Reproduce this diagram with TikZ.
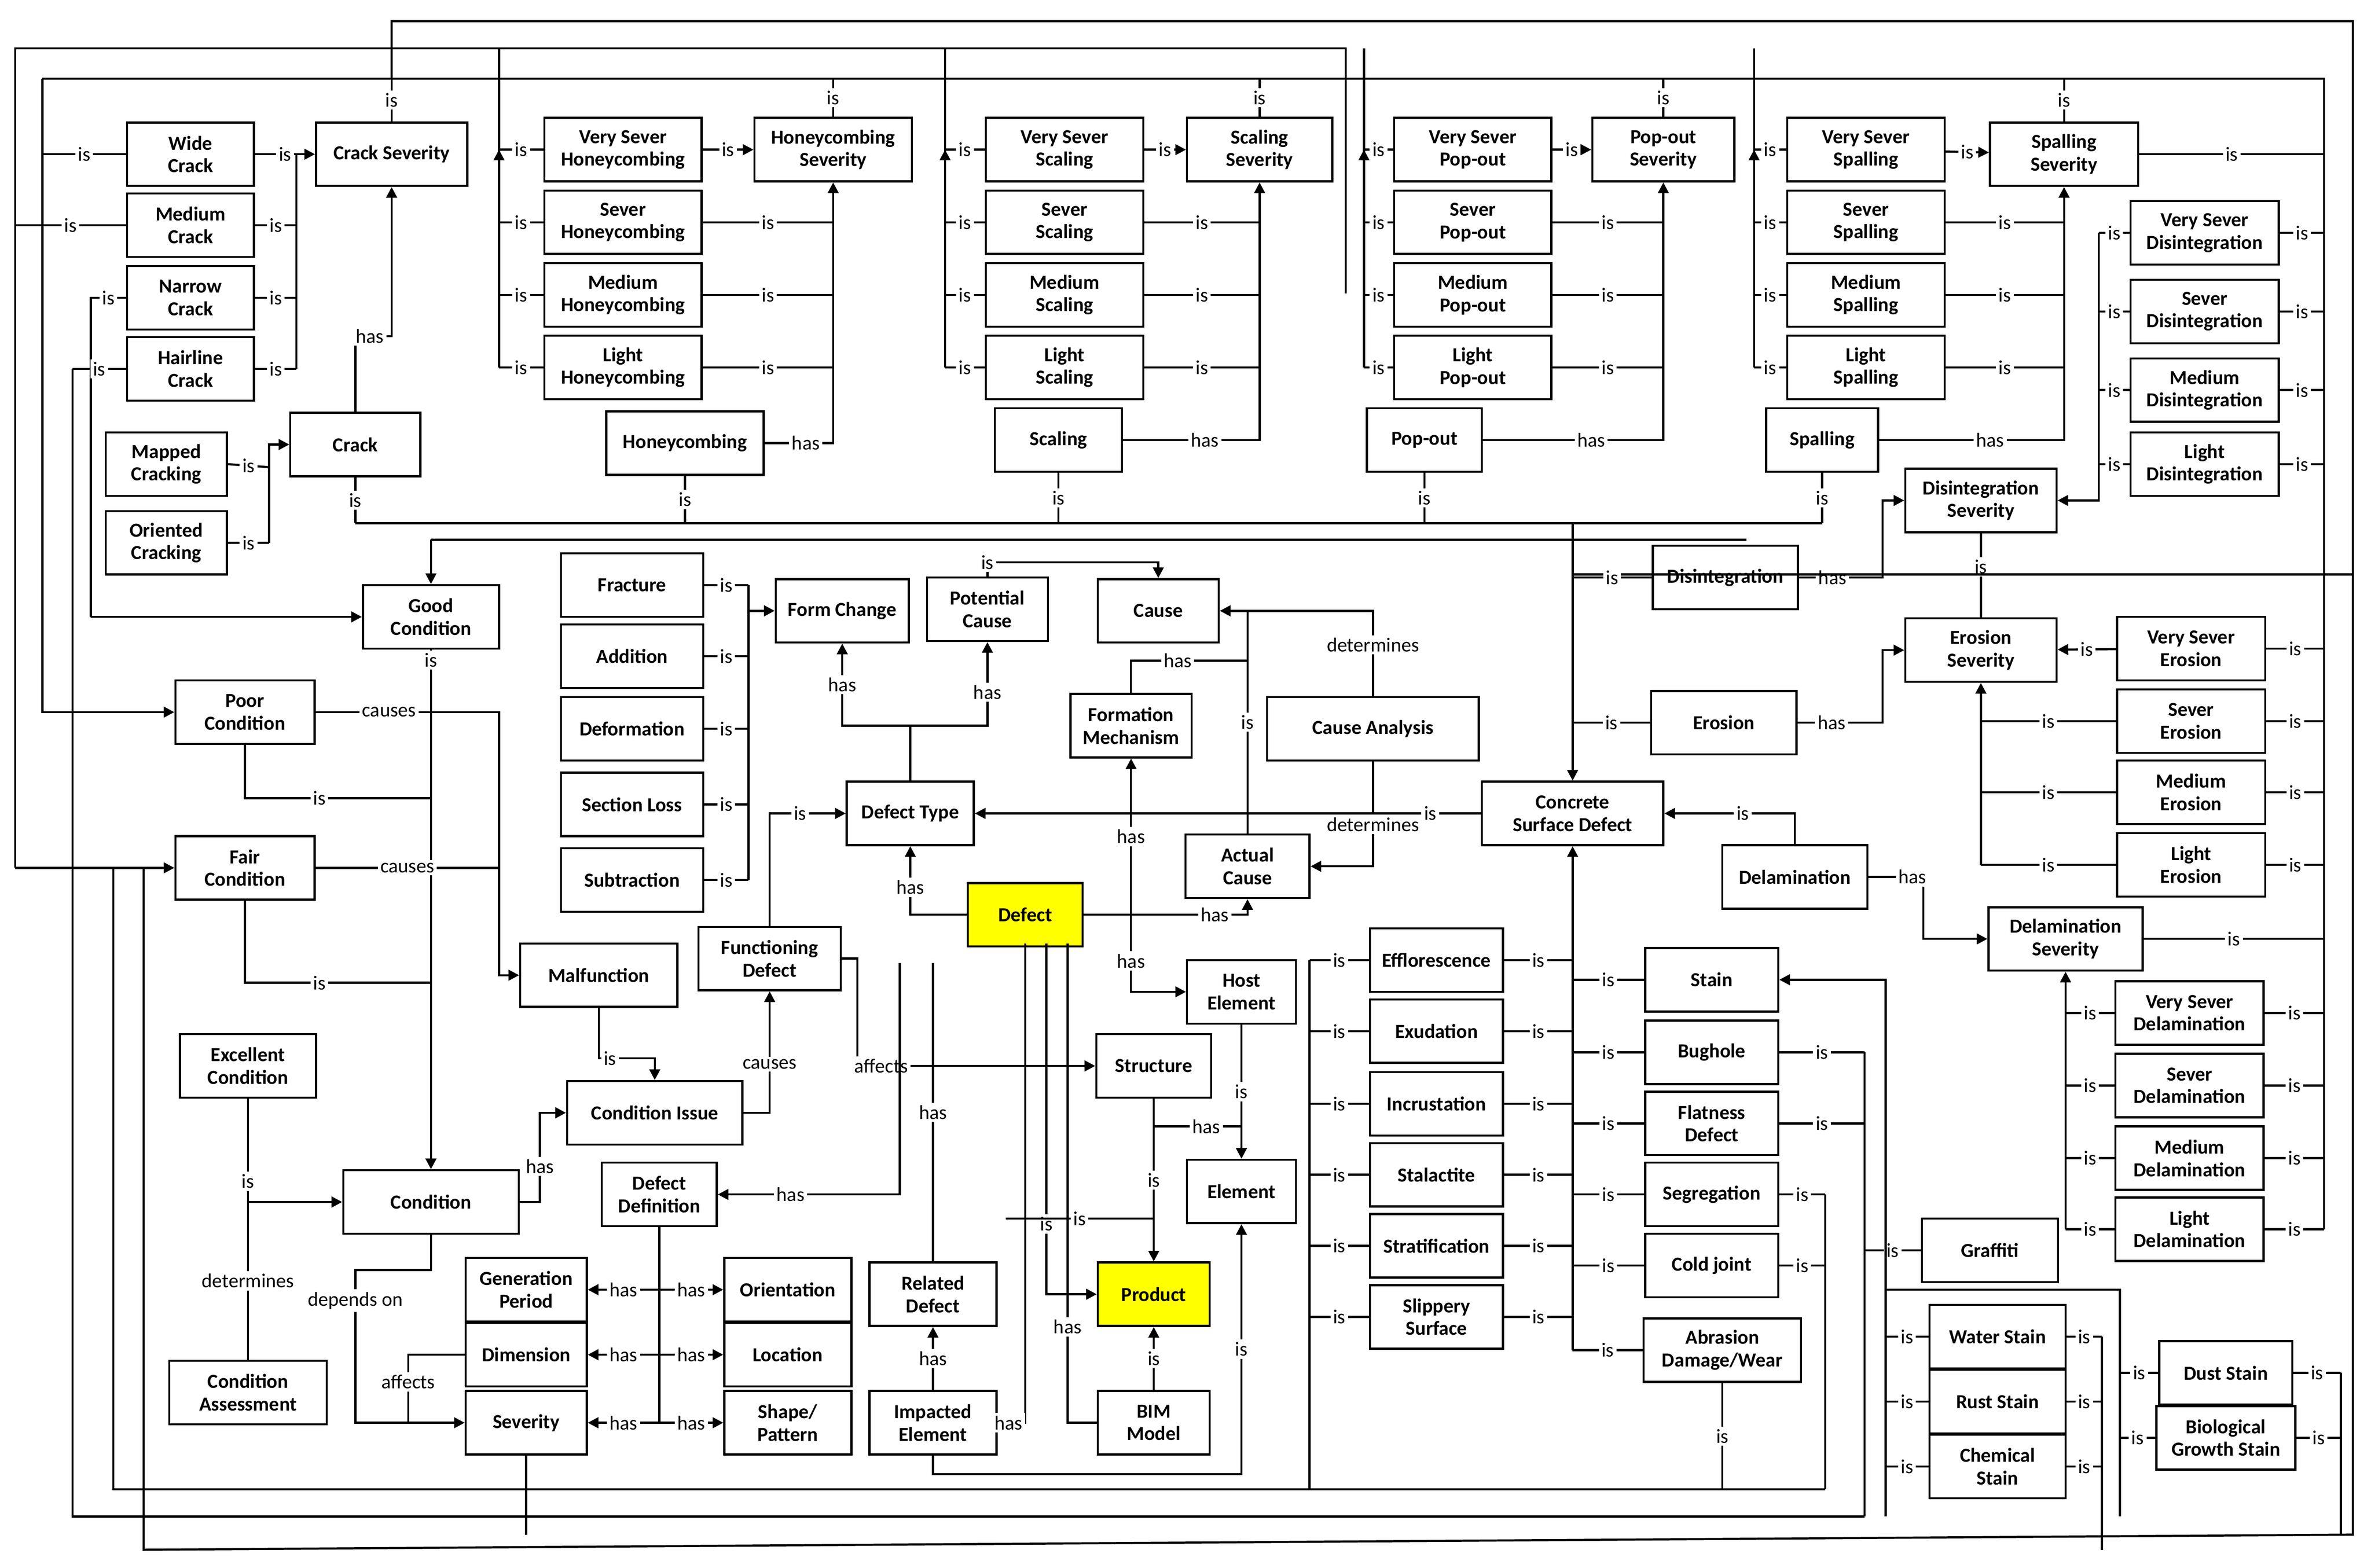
\documentclass[tikz,border=0pt]{standalone}
\usepackage{fontspec}
\setmainfont{Carlito}
\usetikzlibrary{arrows.meta}
\definecolor{defYellow}{HTML}{FFFF00}
\tikzset{
  box/.style={draw, thick, fill=white, align=center, minimum height=0.84cm, inner sep=1pt,
    font=\bfseries\fontsize{7.5}{8.5}\selectfont},
  hot/.style={box, fill=defYellow},
  lbl/.style={fill=white, inner sep=1pt, font=\fontsize{7.5}{8.5}\selectfont},
  arr/.style={-{Triangle[length=4pt,width=4pt]}},
}
\newcommand\bx[5]{\node[box, minimum width=#4*0.02 cm] (#1) at (#2,#3) {#5};}
\begin{document}
\begin{tikzpicture}[x=0.02cm, y=-0.02cm, thick]
\useasboundingbox (0,0) rectangle (1568,1037);

% outer buses
\draw (259,52) |- (1556,14) -- (1556,1015) -- (95,1025) -- (95,574);
\draw (28,52) -- (1537,52) -- (1537,813);
\draw (890,194) -- (890,32) -- (10,32) -- (10,574);
\draw (48,244) -- (48,1003) -- (1233,1003);
\draw (75,574) -- (75,985) -- (1207,985);
\draw (348,960) -- (348,1015);
\draw (235,346) -- (1205,346);
\draw (285,357) -- (1155,357);

% crack group
\bx{crack-w}{126}{102}{84}{Wide\\Crack}
\bx{crack-m}{126}{149}{84}{Medium\\Crack}
\bx{crack-n}{126}{197}{84}{Narrow\\Crack}
\bx{crack-h}{126}{244}{84}{Hairline\\Crack}
\bx{crack-sev}{259}{102}{100}{Crack Severity}
\bx{mapped}{110}{307}{80}{Mapped\\Cracking}
\bx{oriented}{110}{359}{80}{Oriented\\Cracking}
\bx{crack}{235}{294}{86}{Crack}
\coordinate (cb) at (196,0);
\draw[arr] (crack-w) -- node[lbl]{is} (crack-sev);
\foreach \l in {m,n,h} \draw (crack-\l.east) -- node[lbl]{is} (crack-\l.east -| cb);
\draw (196,102) -- (196,244);
\draw (crack-w.west) -- node[lbl]{is} (28,102);
\draw (crack-m.west) -- node[lbl]{is} (10,149);
\draw (crack-n.west) -- node[lbl]{is} (60,197) -- (60,408);
\draw (crack-h.west) -- node[lbl]{is} (48,244);
\draw (crack-sev.north) -- node[lbl]{is} (259,52);
\draw[arr] (crack.north) -- ++(0,-50) -| node[lbl,pos=.2]{has} (crack-sev.south);
\draw (mapped.east) -- node[lbl]{is} (178,309) (oriented.east) -- node[lbl]{is} (178,359);
\draw[arr] (178,359) |- (crack.west);
\draw (crack.south) -- node[lbl]{is} (235,346);

% severity groups
\foreach \g/\sx/\lx/\bxx/\a/\b/\c/\d in {
  honey/551/330/412/Very Sever\\Honeycombing/Sever\\Honeycombing/Medium\\Honeycombing/Light\\Honeycombing,
  scal/833/625/704/Very Sever\\Scaling/Sever\\Scaling/Medium\\Scaling/Light\\Scaling,
  pop/1100/902/974/Very Sever\\Pop-out/Sever\\Pop-out/Medium\\Pop-out/Light\\Pop-out,
  spall/1365/1160/1234/Very Sever\\Spalling/Sever\\Spalling/Medium\\Spalling/Light\\Spalling}{
  \bx{\g-vs}{\bxx}{99}{104}{\a}
  \bx{\g-s}{\bxx}{147}{104}{\b}
  \bx{\g-m}{\bxx}{195}{104}{\c}
  \bx{\g-l}{\bxx}{243}{104}{\d}
  \coordinate (\g-bus) at (\lx,0);
  \draw[arr] (\g-vs) -- node[lbl]{is} (\g-vs -| \g-bus) ++(0,0);
  \foreach \l in {vs,s,m,l} \draw (\g-\l.west) -- node[lbl]{is} (\g-\l.west -| \g-bus);
  \draw (\lx,32) -- (\lx,243);
}
\bx{honey-sev}{551}{99}{104}{Honeycombing\\Severity}
\bx{scal-sev}{833}{99}{96}{Scaling\\Severity}
\bx{pop-sev}{1100}{99}{94}{Pop-out\\Severity}
\bx{spall-sev}{1365}{102}{98}{Spalling\\Severity}
\bx{honey}{453}{293}{104}{Honeycombing}
\bx{scal}{700}{291}{84}{Scaling}
\bx{pop}{942}{291}{76}{Pop-out}
\bx{spall}{1205}{291}{74}{Spalling}
\foreach \g in {honey,scal,pop,spall}{
  \draw[arr] (\g-vs) -- node[lbl]{is} (\g-sev);
  \foreach \l in {s,m,l} \draw (\g-\l.east) -- node[lbl]{is} (\g-\l.east -| \g-sev);
  \draw[arr] (\g) -| node[lbl,pos=.3]{has} (\g-sev);
  \draw (\g-sev.north) -- node[lbl]{is} (\g-sev.north |- 0,52);
  \draw (\g.south) -- node[lbl]{is} (\g.south |- 0,346);
}
\draw (spall-sev.east) -- node[lbl]{is} (1537,102);

% disintegration / erosion / delamination
\bx{dis-vs}{1458}{154}{98}{Very Sever\\Disintegration}
\bx{dis-s}{1458}{206}{98}{Sever\\Disintegration}
\bx{dis-m}{1458}{258}{98}{Medium\\Disintegration}
\bx{dis-l}{1458}{307}{98}{Light\\Disintegration}
\bx{dis-sev}{1310}{331}{100}{Disintegration\\Severity}
\bx{dis}{1141}{382}{96}{Disintegration}
\bx{ero-sev}{1310}{430}{100}{Erosion\\Severity}
\bx{ero}{1140}{478}{96}{Erosion}
\bx{ero-vs}{1449}{429}{98}{Very Sever\\Erosion}
\bx{ero-s}{1449}{477}{98}{Sever\\Erosion}
\bx{ero-m}{1449}{524}{98}{Medium\\Erosion}
\bx{ero-l}{1449}{572}{98}{Light\\Erosion}
\bx{delam}{1187}{580}{96}{Delamination}
\bx{del-sev}{1366}{621}{102}{Delamination\\Severity}
\bx{del-vs}{1448}{670}{98}{Very Sever\\Delamination}
\bx{del-s}{1448}{718}{98}{Sever\\Delamination}
\bx{del-m}{1448}{766}{98}{Medium\\Delamination}
\bx{del-l}{1448}{813}{98}{Light\\Delamination}
\coordinate (db) at (1388,0);
\coordinate (rb) at (1537,0);
\foreach \l in {vs,s,m,l}{
  \draw (dis-\l.west) -- node[lbl]{is} (dis-\l.west -| db);
  \draw (dis-\l.east) -- node[lbl]{is} (dis-\l.east -| rb);
  \draw (ero-\l.east) -- node[lbl]{is} (ero-\l.east -| rb);
  \draw (del-\l.east) -- node[lbl]{is} (del-\l.east -| rb);
  \draw (del-\l.west) -- node[lbl]{is} (del-\l.west -| del-sev);
}
\draw[arr] (1388,154) |- (dis-sev.east);
\draw[arr] (dis) -| node[lbl,pos=.2]{has} (1245,331) -- (dis-sev.west);
\draw (dis-sev.south) -- node[lbl,pos=.4]{is} (ero-sev.north);
\draw (1040,380) -- (1556,380);
\draw[arr] (ero-vs) -- node[lbl]{is} (ero-sev);
\foreach \l in {s,m,l} \draw (ero-\l.west) -- node[lbl]{is} (ero-\l.west -| ero-sev);
\draw[arr] (ero-l.west -| ero-sev) -- (ero-sev.south);
\draw[arr] (ero) -| node[lbl,pos=.2]{has} (1245,430) -- (ero-sev.west);
\draw[arr] (del-l.west -| del-sev) -- (del-sev.south);
\draw[arr] (delam) -| node[lbl,pos=.4]{has} (1272,621) -- (del-sev.west);
\draw (del-sev.east) -- node[lbl]{is} (1537,621);

% concrete surface defect
\bx{csd}{1040}{538}{120}{Concrete\\Surface Defect}
\draw[arr] (1040,346) -- (csd.north);
\draw (dis.west) -- node[lbl]{is} (1040,382);
\draw (ero.west) -- node[lbl]{is} (1040,478);
\draw[arr] (delam.north) |- node[lbl,pos=.7]{is} (csd.east);
\foreach \n/\t/\y in {efflor/Efflorescence/635, exud/Exudation/682, incrust/Incrustation/730,
  stalac/Stalactite/777, strat/Stratification/824, slip/Slippery\\Surface/871}{
  \bx{\n}{950}{\y}{88}{\t}
  \draw (\n.east) -- node[lbl]{is} (1040,\y);
  \draw (\n.west) -- node[lbl]{is} (866,\y);
}
\draw (866,635) -- (866,985);
\foreach \n/\t/\y in {stain/Stain/648, bughole/Bughole/696, flat/Flatness\\Defect/743,
  segr/Segregation/790, cold/Cold joint/837}{
  \bx{\n}{1132}{\y}{88}{\t}
  \draw (\n.west) -- node[lbl]{is} (1040,\y);
}
\bx{abr}{1139}{893}{104}{Abrasion\\Damage/Wear}
\draw (abr.west) -- node[lbl]{is} (1040,893);
\draw[arr] (1040,893) -- (csd.south);
\draw (abr.south) -- node[lbl]{is} (1139,985);
\draw (bughole.east) -- node[lbl]{is} (1233,696) (flat.east) -- node[lbl]{is} (1233,743);
\draw (1233,696) -- (1233,1003);
\draw (segr.east) -- node[lbl]{is} (1207,790) (cold.east) -- node[lbl]{is} (1207,837);
\draw (1207,790) -- (1207,985);
\bx{graf}{1316}{827}{90}{Graffiti}
\draw (graf.west) -- node[lbl]{is} (1233,827);
\bx{water}{1321}{884}{90}{Water Stain}
\bx{rust}{1321}{927}{90}{Rust Stain}
\bx{chem}{1321}{970}{90}{Chemical\\Stain}
\bx{dust}{1472}{908}{88}{Dust Stain}
\bx{bio}{1472}{951}{92}{Biological\\Growth Stain}
\draw[arr] (1247,1003) -- (1247,648) -- (stain.east);
\foreach \n in {water,rust,chem}{
  \draw (\n.west) -- node[lbl]{is} (1247,0 |- \n);
  \draw (\n.east) -- node[lbl]{is} (1390,0 |- \n);
}
\draw (1390,884) -- (1390,1025);
\draw (1247,853) -| (1402,1003);
\draw (dust.west) -- node[lbl]{is} (1402,908) (bio.west) -- node[lbl]{is} (1402,951);
\draw (dust.east) -- node[lbl]{is} (1548,908) (bio.east) -- node[lbl]{is} (1548,951);
\draw (1548,908) -- (1548,1015);

% defect core
\bx{cause}{766}{404}{80}{Cause}
\bx{potc}{653}{403}{80}{Potential\\Cause}
\bx{formc}{557}{404}{88}{Form Change}
\bx{frac}{418}{387}{94}{Fracture}
\bx{addi}{418}{434}{94}{Addition}
\bx{defo}{418}{482}{94}{Deformation}
\bx{secl}{418}{532}{94}{Section Loss}
\bx{subt}{418}{582}{94}{Subtraction}
\bx{formm}{748}{480}{80}{Formation\\Mechanism}
\bx{canal}{908}{482}{140}{Cause Analysis}
\bx{dtype}{602}{538}{84}{Defect Type}
\bx{actc}{825}{573}{82}{Actual\\Cause}
\node[hot, minimum width=76*0.02 cm] (defect) at (678,605) {Defect};
\bx{func}{509}{634}{94}{Functioning\\Defect}
\bx{host}{821}{656}{72}{Host\\Element}
\bx{struct}{763}{705}{76}{Structure}
\bx{elem}{821}{788}{72}{Element}
\node[hot, minimum width=74*0.02 cm] (product) at (763,856) {Product};
\bx{bim}{763}{941}{74}{BIM\\Model}
\bx{reld}{617}{856}{84}{Related\\Defect}
\bx{impe}{617}{941}{84}{Impacted\\Element}
\foreach \n in {frac,addi,defo,secl,subt} \draw (\n.east) -- node[lbl]{is} (495,0 |- \n);
\draw (495,387) -- (495,582);
\draw[arr] (495,404) -- (formc.west);
\draw[arr] (dtype.north) |- (557,480) -- node[lbl]{has} (formc.south);
\draw[arr] (602,480) -| node[lbl,pos=.7]{has} (potc.south);
\draw[arr] (potc.north) |- node[lbl]{is} (730,372) -| (cause.north);
\draw[arr] (canal.north) |- node[lbl,pos=.3]{determines} (cause.east);
\draw[arr] (canal.south) |- node[lbl,pos=.3]{determines} (actc.east);
\draw (actc.north) -- node[lbl]{is} (825,404);
\draw (formm.north) |- node[lbl,pos=.7]{has} (825,437);
\draw[arr] (csd.west) -- node[lbl,pos=.1]{is} (dtype.east);
\draw[arr] (defect.west) -| node[lbl,pos=.7]{has} (dtype.south);
\draw[arr] (defect.east) -| node[lbl,pos=.4]{has} (actc.south);
\draw[arr] (748,605) -- node[lbl]{has} (formm.south);
\draw[arr] (748,605) |- node[lbl,pos=.3]{has} (host.west);
\draw[arr] (func.north) |- node[lbl,pos=.7]{is} (dtype.west);
\draw[arr] (func.east) -| (567,705) -- node[lbl,pos=.1]{affects} (struct.west);
\draw[arr] (struct.south) -- node[lbl]{is} (product.north);
\draw[arr] (763,745) -| node[lbl,pos=.3]{has} (elem.north);
\draw[arr] (host.south) -- node[lbl]{is} (elem.north);
\draw[arr] (bim) -- node[lbl]{is} (product);
\draw[arr] (impe) -- node[lbl]{has} (reld);
\draw (reld.north) -- node[lbl]{has} (617,637);
\draw[arr] (692,624) |- node[lbl,pos=.4]{is} (product.west);
\draw (665,806) -- node[lbl]{is} (763,806);
\draw[arr] (678,624) |- node[lbl,pos=.8]{has} (impe.east);
\draw (706,624) |- node[lbl,pos=.4]{has} (bim.west);
\draw[arr] (impe.south) |- (821,975) -- node[lbl]{is} (elem.south);

% condition
\bx{good}{285}{408}{90}{Good\\Condition}
\bx{poor}{162}{471}{92}{Poor\\Condition}
\bx{fair}{162}{574}{92}{Fair\\Condition}
\bx{malf}{396}{645}{104}{Malfunction}
\bx{excel}{164}{705}{90}{Excellent\\Condition}
\bx{cissue}{433}{736}{116}{Condition Issue}
\bx{cond}{285}{795}{116}{Condition}
\bx{ddef}{436}{790}{76}{Defect\\Definition}
\bx{cassess}{164}{921}{104}{Condition\\Assessment}
\bx{gper}{348}{853}{80}{Generation\\Period}
\bx{dimen}{348}{896}{80}{Dimension}
\bx{sever}{348}{941}{80}{Severity}
\bx{orient}{521}{853}{84}{Orientation}
\bx{loc}{521}{896}{84}{Location}
\bx{shape}{521}{941}{84}{Shape/\\Pattern}
\draw[arr] (285,357) -- (good.north);
\draw[arr] (60,408) -- (good.west);
\draw[arr] (28,52) |- (poor.west);
\draw[arr] (10,574) -- (fair.west);
\draw[arr] (good.south) -- node[lbl,pos=.02]{is} (cond.north);
\draw (poor.south) |- node[lbl,pos=.7]{is} (285,528);
\draw (fair.south) |- node[lbl,pos=.7]{is} (285,650);
\draw[arr] (poor.east) -| node[lbl,pos=.2]{causes} (330,645) -- (malf.west);
\draw (fair.east) -- node[lbl]{causes} (330,574);
\draw[arr] (malf.south) |- node[lbl,pos=.6]{is} (433,700) -- (cissue.north);
\draw[arr] (cissue.east) -| node[lbl,pos=.7]{causes} (func.south);
\draw[arr] (cond.east) -| node[lbl,pos=.7]{has} (357,736) -- (cissue.west);
\draw[arr] (excel.south) |- node[lbl,pos=.4]{is} (cond.west);
\draw (cassess.north) -- node[lbl]{determines} (164,795);
\draw[arr] (cond.south) |- (235,840) -- node[lbl,pos=.2]{depends on} (235,941) -- (sever.west);
\draw (dimen.west) -| node[lbl,pos=.7]{affects} (270,941);
\draw[arr] (595,637) |- node[lbl,pos=.8]{has} (ddef.east);
\draw (ddef.south) -- (436,941);
\foreach \n in {gper,dimen,sever} \draw[arr] (436,0 |- \n) -- node[lbl]{has} (\n.east);
\foreach \n in {orient,loc,shape} \draw[arr] (436,0 |- \n) -- node[lbl]{has} (\n.west);
\end{tikzpicture}
\end{document}
